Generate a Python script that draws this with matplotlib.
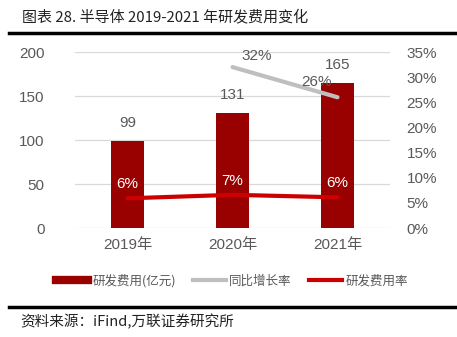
import matplotlib
matplotlib.use("Agg")
import matplotlib.pyplot as plt
from matplotlib.lines import Line2D
from matplotlib.ticker import FuncFormatter

plt.rcParams['font.family'] = ['Liberation Sans', 'Noto Sans CJK SC', 'DejaVu Sans']

# data
years = ['2019年', '2020年', '2021年']
rd_cost = [99, 131, 165]          # 研发费用(亿元)
yoy = [None, 0.32, 0.26]          # 同比增长率
rd_rate = [0.059, 0.066, 0.061]   # 研发费用率
rate_labels = ['6%', '7%', '6%']
yoy_labels = ['', '32%', '26%']

W, H = 457, 337
fig = plt.figure(figsize=(W / 100, H / 100), dpi=100)

# plot area in pixels: x 75..390, y 52..228
ax = fig.add_axes([75 / W, (H - 228) / H, 315 / W, 176 / H])
ax2 = ax.twinx()

x = list(range(len(years)))
bar_c = '#990000'
line_c = '#CC0000'
gray_c = '#BFBFBF'
txt_c = '#595959'
fs = 11

ax.bar(x, rd_cost, width=0.32, color=bar_c, zorder=2)
ax.set_xlim(-0.5, 2.5)
ax.set_ylim(0, 200)
ax.set_yticks([0, 50, 100, 150, 200])
ax.yaxis.grid(True, color='#D9D9D9', lw=0.9)
ax.set_axisbelow(True)
for s in ax.spines.values():
    s.set_visible(False)
for s in ax2.spines.values():
    s.set_visible(False)
ax.tick_params(axis='both', length=0, labelsize=fs, colors=txt_c)
ax.tick_params(axis='y', pad=22)
ax.tick_params(axis='x', pad=7)
ax.set_xticks(x)
ax.set_xticklabels(years)

for xi, v in zip(x, rd_cost):
    ax.text(xi, v + 12, str(v), ha='center', va='bottom', fontsize=fs, color=txt_c)

# right axis
ax2.set_ylim(0, 0.35)
ax2.set_yticks([i * 0.05 for i in range(8)])
ax2.yaxis.set_major_formatter(FuncFormatter(lambda v, p: f'{v * 100:.0f}%'))
ax2.tick_params(axis='y', length=0, labelsize=fs, colors=txt_c, pad=12)

ax2.plot(x[1:], yoy[1:], color=gray_c, lw=3, solid_capstyle='round', zorder=3)
ax2.plot(x, rd_rate, color=line_c, lw=3, solid_capstyle='round', zorder=3)

ax2.text(x[1] + 0.23, yoy[1] + 0.008, yoy_labels[1], ha='center', va='bottom',
         fontsize=fs, color=txt_c)
ax2.text(x[2] - 0.2, yoy[2] + 0.016, yoy_labels[2], ha='center', va='bottom',
         fontsize=fs, color=txt_c)
for xi, v, lab in zip(x, rd_rate, rate_labels):
    ax2.text(xi, v + 0.014, lab, ha='center', va='bottom', fontsize=fs, color='white')

# title and rules
fig.text(22 / W, 1 - 17 / H, '图表 28. 半导体 2019-2021 年研发费用变化', ha='left', va='center',
         fontsize=10.8, color='#222222', family=['Noto Sans CJK SC', 'DejaVu Sans'])
fig.add_artist(Line2D([9 / W, 1], [1 - 33 / H, 1 - 33 / H], color='black', lw=2.5,
                      transform=fig.transFigure))
fig.add_artist(Line2D([9 / W, 1], [1 - 307 / H, 1 - 307 / H], color='black', lw=2.5,
                      transform=fig.transFigure))
fig.text(20 / W, 1 - 322 / H, '资料来源：iFind,万联证券研究所', ha='left', va='center',
         fontsize=10.5, color='#222222', style='italic',
         family=['Noto Sans CJK SC', 'DejaVu Sans'])

# legend
handles = [Line2D([], [], color=bar_c, lw=6),
           Line2D([], [], color=gray_c, lw=3),
           Line2D([], [], color=line_c, lw=3)]
labels = ['研发费用(亿元)', '同比增长率', '研发费用率']
leg = fig.legend(handles, labels, loc='center', bbox_to_anchor=(232 / W, 1 - 281 / H),
                 ncol=3, frameon=False, handlelength=2.6, handletextpad=0.3,
                 columnspacing=1.4, prop={'family': ['Noto Sans CJK SC', 'DejaVu Sans'], 'size': 9})
for t in leg.get_texts():
    t.set_color(txt_c)

fig.savefig('out.png', dpi=100)
